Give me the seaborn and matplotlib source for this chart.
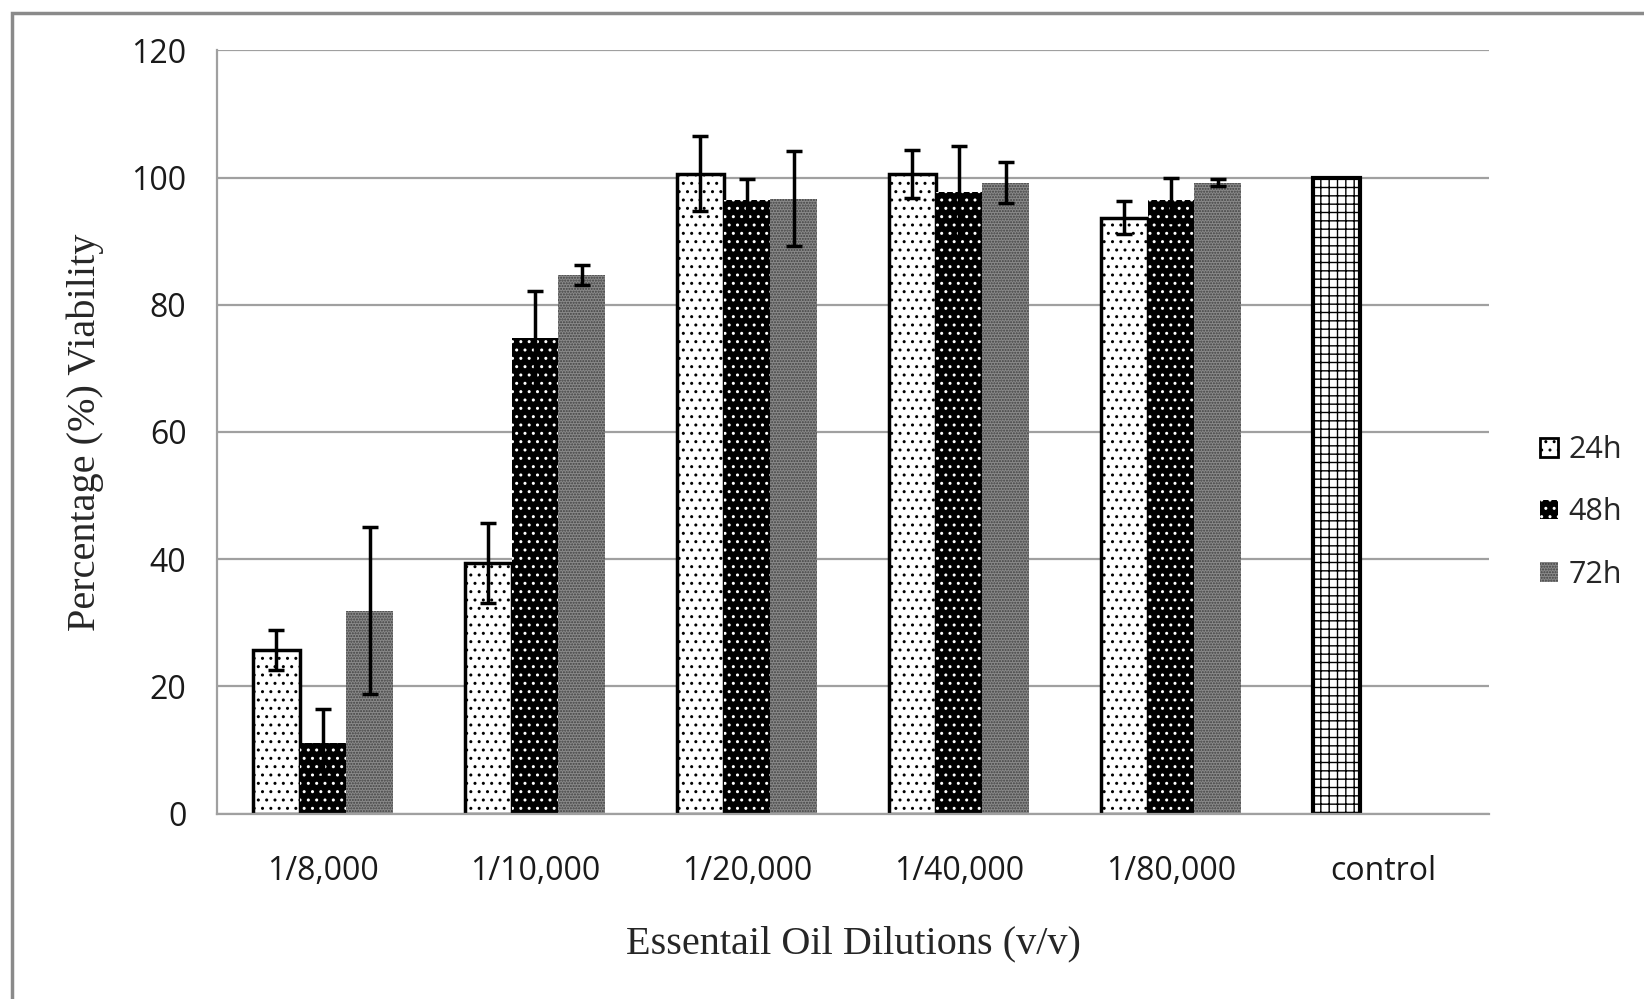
import matplotlib
matplotlib.use("Agg")
import matplotlib.pyplot as plt
from matplotlib.patches import Patch, Rectangle
import numpy as np
import pandas as pd
import seaborn as sns

# values
dilutions = ['1/8,000', '1/10,000', '1/20,000', '1/40,000', '1/80,000', 'control']
times = ['24h', '48h', '72h']
v24 = [25.7, 39.4, 100.6, 100.6, 93.7, 100.0]
e24 = [3.15, 6.3, 5.9, 3.8, 2.6, 0.0]
v48 = [11.1, 74.7, 96.5, 97.8, 96.5, np.nan]
e48 = [5.4, 7.5, 3.2, 7.2, 3.5, np.nan]
v72 = [31.9, 84.7, 96.7, 99.2, 99.2, np.nan]
e72 = [13.15, 1.6, 7.4, 3.2, 0.6, np.nan]

rows = []
for t, vals, errs in zip(times, [v24, v48, v72], [e24, e48, e72]):
    for d, v, e in zip(dilutions, vals, errs):
        if not np.isnan(v):
            rows.append({'dilution': d, 'time': t, 'viability': v, 'err': e})
df = pd.DataFrame(rows)

sns.set_style("white")
plt.rcParams['hatch.linewidth'] = 1.0
tick_font = 'Open Sans'
label_font = 'Liberation Serif'

fig = plt.figure(figsize=(16.44, 9.99), dpi=100)
ax = fig.add_axes([217 / 1644, 1 - 813.6 / 999, 1272 / 1644, 763.3 / 999])

sns.barplot(data=df, x='dilution', y='viability', hue='time', order=dilutions,
            hue_order=times, width=0.665, gap=0, errorbar=None, legend=False, ax=ax)

styles = {
    '24h': dict(facecolor='white', edgecolor='black', hatch='..', linewidth=2.5),
    '48h': dict(facecolor='black', edgecolor='white', hatch='..', linewidth=0),
    '72h': dict(facecolor='#8a8a8a', edgecolor='#404040', hatch='......', linewidth=0),
}
control_style = dict(facecolor='white', edgecolor='black', hatch='++', linewidth=3)

err_lookup = {(r.time, r.dilution): r.err for r in df.itertuples()}
for container, t in zip(ax.containers, times):
    for bar in container:
        cx = bar.get_x() + bar.get_width() / 2
        cat = dilutions[int(round(cx))]
        st = control_style if cat == 'control' else styles[t]
        bar.set_facecolor(st['facecolor'])
        bar.set_edgecolor(st['edgecolor'])
        bar.set_hatch(st['hatch'])
        bar.set_linewidth(st['linewidth'])
        err = err_lookup[(t, cat)]
        if err > 0:
            ax.errorbar(cx, bar.get_height(), yerr=err, fmt='none', ecolor='black',
                        elinewidth=2.5, capsize=5.5, capthick=2.5, zorder=5)

ax.set_ylim(0, 120)
ax.set_xlim(-0.5, len(dilutions) - 0.5)
ax.set_yticks(np.arange(0, 121, 20))
ax.yaxis.grid(True, color='#a0a0a0', linewidth=1.6)
ax.set_axisbelow(True)

ax.set_xticks(np.arange(-0.5, len(dilutions), 1.0))
ax.set_xticklabels([])
ax.set_xticks(np.arange(len(dilutions)), minor=True)
ax.set_xticklabels(dilutions, minor=True)
ax.tick_params(axis='x', which='major', length=10, width=1.6, color='#a0a0a0', direction='out')
ax.tick_params(axis='x', which='minor', length=0, pad=30)
ax.tick_params(axis='y', length=10, width=1.6, color='#a0a0a0', direction='out', pad=12)
for lab in ax.get_xticklabels(minor=True) + ax.get_yticklabels():
    lab.set_fontfamily(tick_font)
    lab.set_fontsize(23)
    lab.set_color('#1a1a1a')

for side in ['top', 'right']:
    ax.spines[side].set_visible(False)
for side in ['left', 'bottom']:
    ax.spines[side].set_color('#a0a0a0')
    ax.spines[side].set_linewidth(1.6)

ax.set_xlabel('Essentail Oil Dilutions (v/v)', fontfamily=label_font, fontsize=29, labelpad=27)
ax.set_ylabel('Percentage (%) Viability', fontfamily=label_font, fontsize=29, labelpad=20)

handles = [Patch(facecolor=styles[t]['facecolor'], edgecolor=styles[t]['edgecolor'],
                 hatch=styles[t]['hatch'], linewidth=2.0 if styles[t]['linewidth'] else 0)
           for t in times]
fig.legend(handles, times, loc='center left', bbox_to_anchor=(1512 / 1644, 0.487),
           frameon=False, prop={'family': tick_font, 'size': 22},
           handlelength=0.6, handleheight=0.6, handletextpad=0.35, labelspacing=1.05)

# grey outer frame (only left and top edges visible in the reference)
fig.patches.append(Rectangle((12 / 1644, -0.1), 1.2, 1 - 13 / 999 + 0.1,
                             transform=fig.transFigure, fill=False,
                             edgecolor='#8a8a8a', linewidth=2.5))

fig.savefig('out.png', dpi=100)
